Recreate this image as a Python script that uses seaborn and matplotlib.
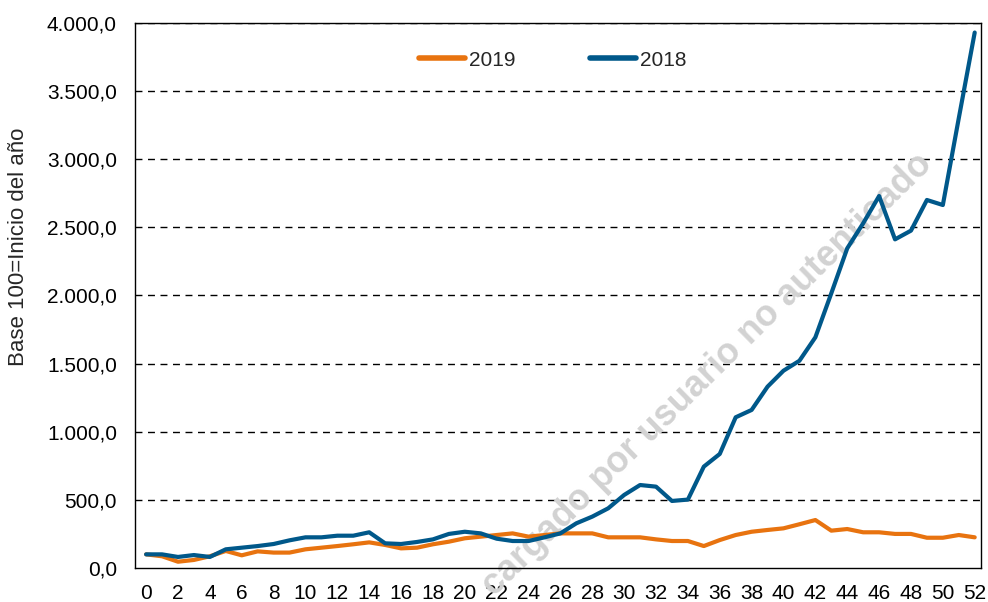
import numpy as np
import pandas as pd
import matplotlib
matplotlib.use("Agg")
import matplotlib.pyplot as plt
import seaborn as sns

# weekly index, base 100 = start of year
weeks = list(range(53))

serie_2019 = [100, 86, 46, 59, 86, 125, 93, 122, 113, 113,
              137, 149, 161, 174, 188, 169, 144, 149, 174, 193,
              218, 230, 242, 254, 230, 242, 254, 254, 254, 225,
              225, 225, 210, 198, 198, 161, 205, 242, 266, 279,
              291, 321, 352, 274, 286, 262, 262, 250, 250, 222,
              222, 242, 225]

serie_2018 = [100, 100, 81, 95, 81, 137, 149, 161, 176, 203,
              225, 225, 237, 237, 262, 181, 176, 191, 210, 250,
              266, 254, 215, 198, 198, 225, 254, 328, 377, 438,
              536, 609, 597, 492, 502, 744, 837, 1106, 1160, 1331,
              1448, 1521, 1693, 2016, 2346, 2530, 2730, 2412, 2476, 2701,
              2664, 3301, 3930]

years = ["2019", "2018"]
colors = {"2019": "#E8730F", "2018": "#00588A"}

df = pd.DataFrame({
    "semana": weeks * 2,
    "valor": serie_2019 + serie_2018,
    "anio": ["2019"] * 53 + ["2018"] * 53,
})

sns.set_style("white")
plt.rcParams["font.family"] = ["Liberation Sans", "DejaVu Sans"]

fig = plt.figure(figsize=(9.88, 6.02), dpi=100)
ax = fig.add_axes([0.1366, 0.0565, 0.8564, 0.9053])

sns.lineplot(data=df, x="semana", y="valor", hue="anio", hue_order=years,
             palette=colors, linewidth=3, ax=ax, zorder=3)

ax.set_xlim(-0.7, 52.4)
ax.set_ylim(0, 4000)
ax.set_xticks(range(0, 53, 2))
ax.set_yticks(np.arange(0, 4001, 500))
ax.set_yticklabels([f"{v:,.1f}".replace(",", "X").replace(".", ",").replace("X", ".")
                    for v in np.arange(0, 4001, 500)])
ax.tick_params(axis="both", labelsize=15, colors="black")
ax.tick_params(axis="y", direction="in", length=4, width=1, pad=13)
ax.tick_params(axis="x", length=0, pad=11.5)

for v in np.arange(500, 4001, 500):
    ax.axhline(v, color="black", lw=1, ls=(0, (5, 4)), zorder=1)

for s in ax.spines.values():
    s.set_color("black")
    s.set_linewidth(1)

ax.set_xlabel("")
ax.set_ylabel("Base 100=Inicio del año", fontsize=16)
ax.yaxis.set_label_coords(-0.125, 0.589)

leg = ax.legend(loc="center", bbox_to_anchor=(0.494, 0.932), ncol=2,
                frameon=False, fontsize=15, handlelength=2.2, handletextpad=0.2,
                columnspacing=3.6)
for line in leg.get_lines():
    line.set_linewidth(4)

# watermark, sits behind the lines
ax.text(0.7156, 0.378, "cargado por usuario no autenticado", rotation=44.5,
        rotation_mode="anchor", ha="center", va="center", fontsize=26,
        fontweight="bold", color="#D2D2D2", transform=fig.transFigure, zorder=2)

fig.savefig("out.png", dpi=100)
